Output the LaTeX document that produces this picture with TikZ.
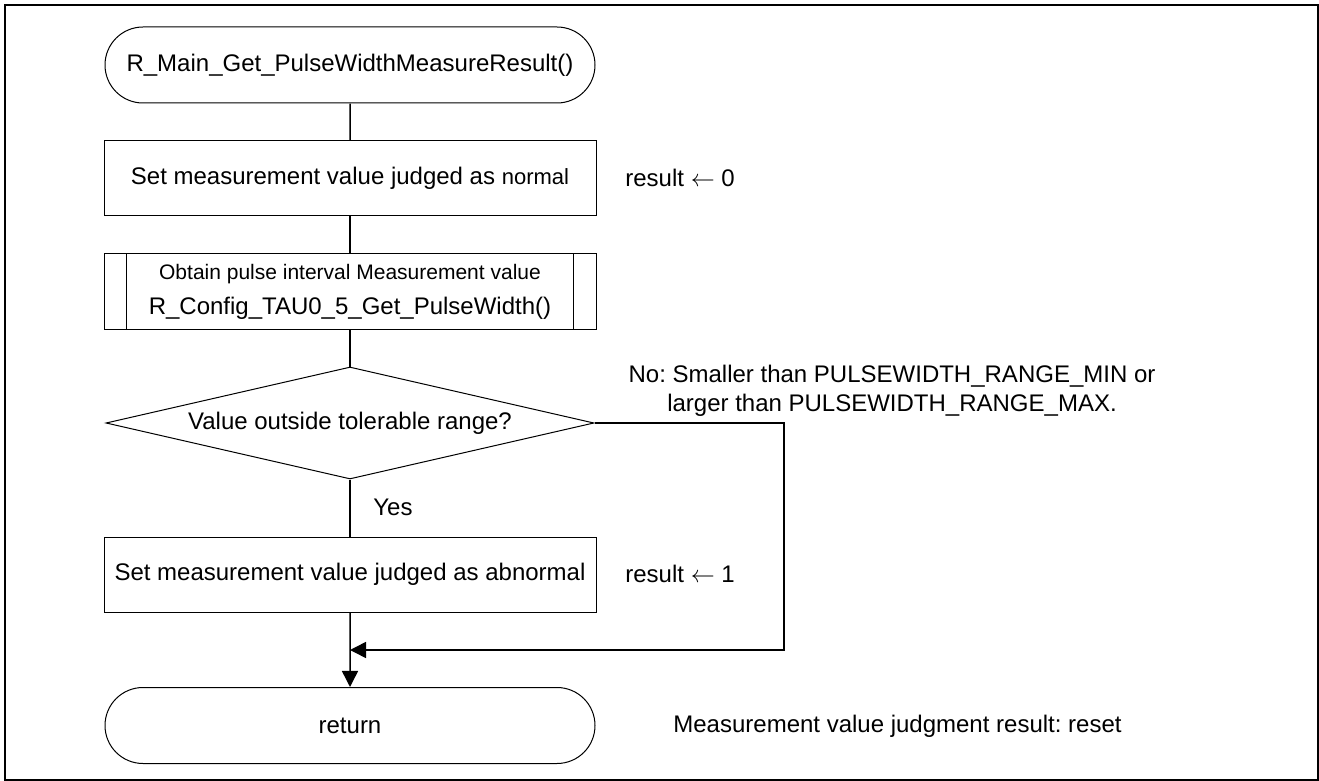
\documentclass[tikz,border=0pt]{standalone}
\usepackage{fontspec}
\setmainfont{Liberation Sans}
\usepackage{tikz}
\usetikzlibrary{shapes.geometric, shapes.misc, arrows.meta}
\frenchspacing

\begin{document}
\begin{tikzpicture}[x=0.5pt, y=-0.5pt, every node/.style={font=\fontsize{12}{14.4}\selectfont}]
    % Styles
    \tikzstyle{terminal} = [rounded rectangle, draw=black, line width=0.5pt, minimum width=245pt, minimum height=38pt, inner sep=0pt]
    \tikzstyle{process} = [rectangle, draw=black, line width=0.5pt, minimum width=246pt, minimum height=37.5pt, align=center, inner sep=0pt]
    \tikzstyle{decision} = [diamond, draw=black, line width=0.5pt, minimum width=244pt, minimum height=56pt, aspect=4.36, inner sep=0pt]
    \tikzstyle{line} = [line width=0.75pt]
    \tikzstyle{arrow} = [-{Triangle[length=8pt, width=8pt]}, line width=0.75pt]
    \tikzstyle{note} = [anchor=west, inner sep=0pt]

    % Frame
    \useasboundingbox (0,0) rectangle (1319,781);
    \draw[line width=1.2pt] (5,5) rectangle (1318,780);

    % Nodes
    \node[terminal] (start) at (350,65) {R\_Main\_Get\_PulseWidthMeasureResult()};
    \node[process] (setok) at (350,178) {Set measurement value judged as {\fontsize{11}{13}\selectfont normal}};
    \node[process] (getpw) at (350,291.5) {{\fontsize{10.5}{12}\selectfont Obtain pulse interval Measurement value}\\[3pt]R\_Config\_TAU0\_5\_Get\_PulseWidth()};
    \node[decision] (check) at (350,423) {Value outside tolerable range?};
    \node[process] (setng) at (350,574.5) {Set measurement value judged as abnormal};
    \node[terminal] (ret) at (350,725.5) {return};

    % Side notes
    \node[note] (res0) at (625,178) {result $\leftarrow$ 0};
    \node[note] (res1) at (625,574) {result $\leftarrow$ 1};
    \node[align=center] (nolbl) at (892,391) {No: Smaller than PULSEWIDTH\_RANGE\_MIN or\\larger than PULSEWIDTH\_RANGE\_MAX.};
    \node[note] (yeslbl) at (373,507) {Yes};
    \node[note] (retlbl) at (673,726) {Measurement value judgment result: reset};

    % Subroutine bars
    \draw[line width=0.5pt] ([xshift=11.5pt]getpw.north west) -- ([xshift=11.5pt]getpw.south west);
    \draw[line width=0.5pt] ([xshift=-11.5pt]getpw.north east) -- ([xshift=-11.5pt]getpw.south east);

    % Arrows
    \coordinate (join) at (350,650);
    \coordinate (rcorner) at (784,650);
    \draw[line] (start) -- (setok);
    \draw[line] (setok) -- (getpw);
    \draw[line] (getpw) -- (check);
    \draw[line] (check) -- (setng);
    \draw[arrow] (setng) -- (ret);
    \draw[arrow] (check.east) -| (rcorner) -- (join);
\end{tikzpicture}
\end{document}
